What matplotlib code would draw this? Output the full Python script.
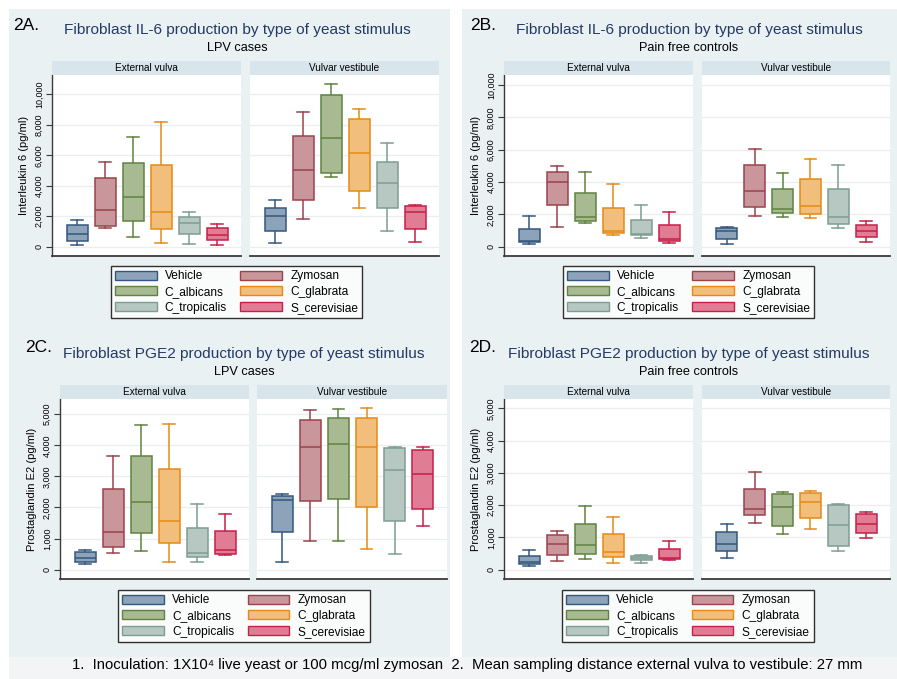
import matplotlib
matplotlib.use('Agg')
import matplotlib.pyplot as plt
from matplotlib.patches import Rectangle, Patch

# ---------------- data ----------------
groups = ["Vehicle", "Zymosan", "C_albicans", "C_glabrata", "C_tropicalis", "S_cerevisiae"]
sites = ["External vulva", "Vulvar vestibule"]
# each row: [lower whisker, q1, median, q3, upper whisker]
il6_lpv_ext = [[130, 390, 830, 1420, 1750], [1250, 1360, 2430, 4530, 5580],
               [610, 1680, 3240, 5510, 7180], [260, 1180, 2250, 5380, 8160],
               [200, 810, 1530, 1930, 2250], [130, 440, 740, 1250, 1510]]
il6_lpv_vest = [[260, 1050, 1990, 2540, 3040], [1790, 3090, 5010, 7290, 8840],
                [4570, 4810, 7110, 9930, 10660], [2540, 3650, 6130, 8360, 9040],
                [1010, 2540, 4160, 5560, 6780], [330, 1140, 2250, 2670, 2710]]
il6_ctrl_ext = [[165, 290, 370, 1110, 1880], [1220, 2560, 4020, 4620, 4970],
                [1440, 1570, 1810, 3340, 4600], [700, 870, 990, 2390, 3860],
                [540, 700, 760, 1630, 2560], [250, 370, 470, 1340, 2120]]
il6_ctrl_vest = [[190, 470, 970, 1180, 1240], [1920, 2450, 3440, 5070, 6060],
                 [1860, 2060, 2330, 3550, 4540], [1790, 2000, 2520, 4190, 5420],
                 [1180, 1400, 1860, 3550, 5030], [310, 580, 970, 1340, 1590]]
pge2_lpv_ext = [[180, 250, 390, 560, 620], [540, 720, 1210, 2580, 3650],
                [600, 1180, 2170, 3650, 4650], [240, 850, 1560, 3230, 4700],
                [240, 410, 540, 1350, 2110], [470, 500, 620, 1260, 1780]]
pge2_lpv_vest = [[240, 1210, 2230, 2360, 2450], [930, 2200, 3950, 4830, 5130],
                 [930, 2260, 4040, 4880, 5160], [660, 2020, 3950, 4880, 5190],
                 [510, 1560, 3200, 3900, 3960], [1410, 1960, 3070, 3840, 3940]]
pge2_ctrl_ext = [[110, 180, 240, 430, 610], [260, 440, 790, 1070, 1200],
                 [320, 480, 750, 1420, 1980], [210, 390, 550, 1100, 1620],
                 [210, 290, 350, 430, 450], [310, 330, 370, 640, 880]]
pge2_ctrl_vest = [[350, 580, 810, 1170, 1420], [1450, 1680, 1880, 2500, 3020],
                  [1100, 1360, 1940, 2350, 2400], [1270, 1590, 2090, 2370, 2440],
                  [580, 720, 1380, 2000, 2030], [990, 1130, 1420, 1720, 1790]]
il6_ticks = [0, 2000, 4000, 6000, 8000, 10000]
pge2_ticks = [0, 1000, 2000, 3000, 4000, 5000]

edge_colors = ["#34577E", "#9A434A", "#5F8240", "#E58A17", "#7F9C93", "#C62048"]
fill_colors = ["#8CA3B9", "#C8969B", "#A8BA92", "#F1BE7C", "#B6C8C1", "#E07D95"]

plt.rcParams['font.family'] = ['Liberation Sans', 'DejaVu Sans']

W, H = 897, 679
fig = plt.figure(figsize=(W / 100, H / 100), dpi=100)
fig.patch.set_facecolor('white')


def rect(x0, y0, x1, y1):
    return [x0 / W, 1 - y1 / H, (x1 - x0) / W, (y1 - y0) / H]


def bg(x0, y0, x1, y1, color):
    fig.patches.append(Rectangle((x0 / W, 1 - y1 / H), (x1 - x0) / W, (y1 - y0) / H,
                                 transform=fig.transFigure, facecolor=color,
                                 edgecolor='none', zorder=-10))


BG = "#EAF1F3"
bg(9, 9, 450, 657, BG)
bg(462, 9, 897, 657, BG)
bg(9, 657, 897, 679, "#F2F4F5")

TITLE_COLOR = "#243A66"


def sub_axes(data, xr, yr, ylim, yticks, site, first, ylabel):
    x0, x1 = xr
    y0, y1 = yr
    ax = fig.add_axes(rect(x0, y0, x1, y1))
    ax.set_zorder(2)
    ax.set_facecolor('white')
    stats = [dict(whislo=d[0], q1=d[1], med=d[2], q3=d[3], whishi=d[4], fliers=[]) for d in data]
    bp = ax.bxp(stats, positions=list(range(1, 7)), widths=0.75, patch_artist=True,
                showfliers=False, capwidths=0.42)
    for i in range(6):
        bp['boxes'][i].set(facecolor=fill_colors[i], edgecolor=edge_colors[i], linewidth=1.1, zorder=3)
        bp['medians'][i].set(color=edge_colors[i], linewidth=1.1, zorder=4)
        for k in (2 * i, 2 * i + 1):
            bp['whiskers'][k].set(color=edge_colors[i], linewidth=1.1)
            bp['caps'][k].set(color=edge_colors[i], linewidth=1.1)
    ax.set_xlim(0.107, 6.857)
    ax.set_ylim(*ylim)
    ax.set_yticks(yticks)
    ax.set_xticks([])
    ax.yaxis.grid(True, color="#E9EFF1", linewidth=0.9, zorder=0)
    ax.set_axisbelow(True)
    for s in ('top', 'right'):
        ax.spines[s].set_visible(False)
    ax.spines['bottom'].set_color('#3A3A3A')
    ax.spines['bottom'].set_linewidth(1.3)
    if first:
        ax.spines['left'].set_color('#3A3A3A')
        ax.spines['left'].set_linewidth(1.0)
        ax.tick_params(axis='y', direction='out', length=4, width=0.8, color='#3A3A3A', pad=2)
        ax.set_yticklabels([f"{t:,}" for t in yticks], rotation=90, va='center', fontsize=6.5)
        ax.set_ylabel(ylabel, fontsize=8, labelpad=4)
    else:
        ax.spines['left'].set_visible(False)
        ax.tick_params(axis='y', length=0, labelleft=False)
    # strip
    sax = fig.add_axes(rect(x0, y0 - 14, x1, y0))
    sax.set_zorder(2)
    sax.set_facecolor("#D8E5EA")
    sax.set_xticks([])
    sax.set_yticks([])
    for s in sax.spines.values():
        s.set_visible(False)
    sax.text(0.5, 0.5, site, ha='center', va='center', fontsize=7.2, transform=sax.transAxes)
    return ax


def panel(label, label_xy, title, subtitle, title_c, ty, ylabel, ext, vest, ylim, yticks,
          ext_x, vest_x, yr, leg_c):
    fig.text(label_xy[0] / W, 1 - label_xy[1] / H, label, fontsize=12.5, ha='center', va='center')
    fig.text(title_c / W, 1 - ty / H, title, fontsize=11.1, color=TITLE_COLOR, ha='center', va='center')
    fig.text(title_c / W, 1 - (ty + 18) / H, subtitle, fontsize=9.2, ha='center', va='center')
    sub_axes(ext, ext_x, yr, ylim, yticks, sites[0], True, ylabel)
    sub_axes(vest, vest_x, yr, ylim, yticks, sites[1], False, ylabel)
    order = [0, 2, 4, 1, 3, 5]
    handles = [Patch(facecolor=fill_colors[i], edgecolor=edge_colors[i], linewidth=1.0) for i in order]
    labels = [groups[i] for i in order]
    leg = fig.legend(handles, labels, ncol=2, loc='center',
                     bbox_to_anchor=(leg_c[0] / W, 1 - leg_c[1] / H),
                     fontsize=8.6, frameon=True, fancybox=False, edgecolor='black',
                     handlelength=3.5, handleheight=0.8, handletextpad=0.7,
                     columnspacing=1.1, labelspacing=0.3, borderpad=0.35)
    leg.get_frame().set_linewidth(1.0)
    leg.get_frame().set_facecolor('white')
    leg.set_zorder(3)


panel("2A.", (26, 25), "Fibroblast IL-6 production by type of yeast stimulus", "LPV cases",
      237, 30, "Interleukin 6 (pg/ml)", il6_lpv_ext, il6_lpv_vest, (-610, 11270), il6_ticks,
      (52, 241), (250, 439), (75, 256), (236.5, 292))
panel("2B.", (483, 25), "Fibroblast IL-6 production by type of yeast stimulus", "Pain free controls",
      689, 30, "Interleukin 6 (pg/ml)", il6_ctrl_ext, il6_ctrl_vest, (-580, 10620), il6_ticks,
      (504, 693), (702, 890), (75, 256), (688.5, 292))
panel("2C.", (39, 348), "Fibroblast PGE2 production by type of yeast stimulus", "LPV cases",
      244, 354, "Prostaglandin E2 (pg/ml)", pge2_lpv_ext, pge2_lpv_vest, (-300, 5490), pge2_ticks,
      (60, 249), (257, 447), (399, 579), (244, 616))
panel("2D.", (483, 348), "Fibroblast PGE2 production by type of yeast stimulus", "Pain free controls",
      689, 354, "Prostaglandin E2 (pg/ml)", pge2_ctrl_ext, pge2_ctrl_vest, (-290, 5290), pge2_ticks,
      (504, 693), (702, 890), (399, 579), (688, 616))

fig.text(467 / W, 1 - 665 / H,
         "1.  Inoculation: 1X10\u2074 live yeast or 100 mcg/ml zymosan  2.  Mean sampling distance external vulva to vestibule: 27 mm",
         fontsize=10.7, ha='center', va='center')

fig.savefig("out.png", dpi=100)
